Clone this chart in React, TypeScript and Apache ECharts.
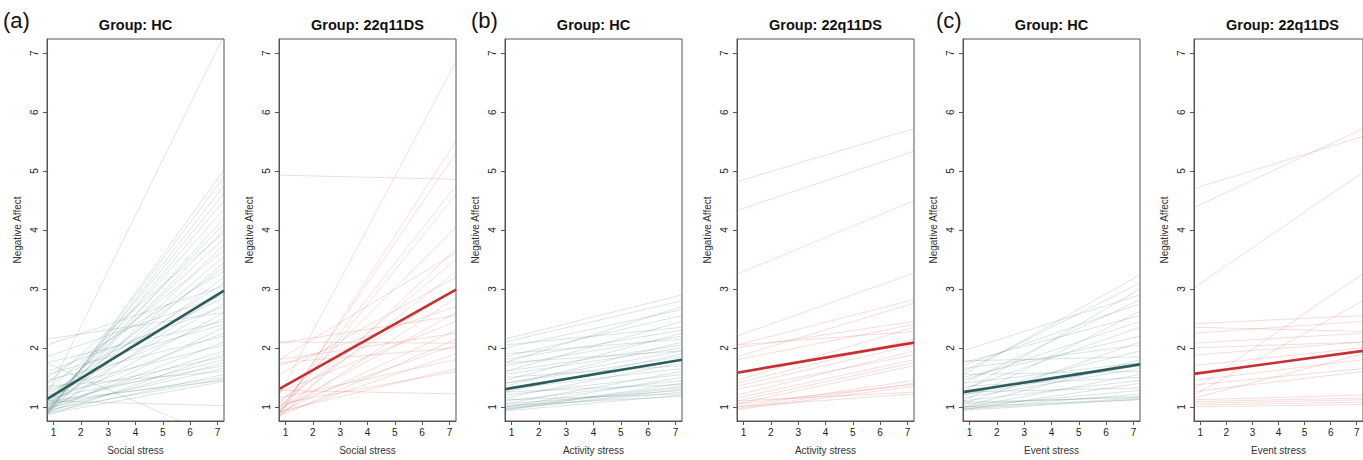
import React, { useEffect, useRef } from "react";
import * as echarts from "echarts";

// ---------- data ----------
const X_TICKS = [1, 2, 3, 4, 5, 6, 7];
const Y_TICKS = [1, 2, 3, 4, 5, 6, 7];
const AXIS_MIN = 0.76;
const AXIS_MAX = 7.24;

const panelLetters = ["(a)", "(b)", "(c)"];
const stressNames = ["Social stress", "Activity stress", "Event stress"];
const groupNames = ["HC", "22q11DS"];

// individual slopes: value at left edge / value at right edge of the plot
const socialHC_start = [1.2, 0.85, 0.88, 0.9, 0.95, 0.92, 1.0, 0.9, 1.05, 0.95, 1.1, 0.88, 1.3, 1.0, 0.92, 1.15, 1.5, 0.98, 1.2, 2.05, 0.9, 1.4, 1.05, 1.6, 0.95, 1.25, 1.75, 0.88, 1.1, 1.45, 0.95, 1.3, 1.0, 0.85, 1.2, 1.05, 0.92, 1.15, 0.98, 1.35, 0.9, 1.05, 0.95, 1.1, 0.88, 1.1, 1.74, 1.55, 1.85, 1.4, 2.15];
const socialHC_end = [7.3, 5.02, 4.9, 4.75, 4.62, 4.5, 4.35, 4.2, 4.1, 4.0, 3.85, 3.75, 3.65, 3.55, 3.45, 3.38, 3.3, 3.2, 3.1, 3.05, 2.95, 2.85, 2.75, 2.7, 2.6, 2.5, 2.45, 2.35, 2.25, 2.2, 2.1, 2.05, 1.95, 1.9, 1.85, 1.8, 1.75, 1.7, 1.65, 1.6, 1.55, 1.5, 1.47, 1.45, 1.43, 1.02, 0.44, 2.4, 2.9, 3.95, 2.6];

const social22_start = [1.2, 0.85, 0.9, 4.93, 0.95, 0.88, 1.05, 0.82, 1.8, 1.0, 0.92, 1.55, 1.1, 0.86, 1.7, 0.95, 2.08, 1.25, 0.9, 2.1, 1.0, 1.75, 0.88, 1.15, 0.92, 1.05, 1.28, 1.8, 0.84];
const social22_end = [6.86, 5.51, 5.3, 4.86, 4.75, 4.6, 4.05, 3.68, 3.62, 3.5, 3.3, 3.2, 3.0, 2.85, 2.7, 2.6, 2.55, 2.45, 2.3, 2.08, 2.05, 2.0, 1.9, 1.8, 1.65, 1.6, 1.22, 2.25, 2.15];

const activityHC_start = [2.15, 2.1, 1.75, 2.0, 1.85, 1.6, 2.05, 1.45, 1.7, 1.9, 1.35, 1.55, 1.75, 1.25, 1.4, 1.15, 1.5, 1.3, 1.05, 1.2, 1.0, 1.1, 0.95, 1.25, 1.0, 0.95, 1.05, 0.97, 1.12, 0.93, 1.02, 1.6, 1.8, 1.4, 0.98];
const activityHC_end = [2.9, 2.8, 2.7, 2.65, 2.55, 2.45, 2.35, 2.25, 2.2, 2.15, 2.1, 2.0, 1.95, 1.9, 1.85, 1.75, 1.7, 1.65, 1.6, 1.55, 1.5, 1.45, 1.4, 1.38, 1.35, 1.3, 1.28, 1.25, 1.22, 1.2, 1.18, 2.05, 2.3, 1.95, 1.33];

const activity22_start = [4.82, 4.33, 3.25, 2.2, 2.05, 1.85, 2.0, 1.8, 1.45, 2.05, 1.35, 1.2, 1.3, 1.15, 1.1, 1.05, 1.0, 0.97, 1.05, 0.95, 1.1, 1.0, 1.4];
const activity22_end = [5.72, 5.34, 4.5, 3.27, 2.82, 2.76, 2.45, 2.4, 2.35, 2.28, 2.05, 1.95, 1.88, 1.8, 1.75, 1.7, 1.45, 1.4, 1.38, 1.35, 1.25, 1.22, 2.15];

const eventHC_start = [1.55, 1.6, 1.25, 1.95, 1.4, 1.7, 1.1, 1.75, 1.3, 1.5, 1.05, 1.65, 1.2, 1.78, 1.0, 1.4, 1.15, 1.55, 0.98, 1.35, 1.1, 0.95, 1.25, 1.0, 0.97, 1.05, 0.96, 1.0, 1.08, 0.94, 1.45, 1.2];
const eventHC_end = [3.24, 3.1, 3.0, 2.9, 2.82, 2.75, 2.62, 2.55, 2.35, 2.2, 2.1, 2.05, 1.95, 1.85, 1.8, 1.75, 1.65, 1.6, 1.55, 1.5, 1.45, 1.4, 1.32, 1.28, 1.22, 1.18, 1.15, 1.12, 1.16, 1.13, 2.45, 1.7];

const event22_start = [4.7, 4.38, 3.02, 1.3, 1.2, 2.41, 2.35, 2.25, 2.08, 1.88, 1.45, 1.37, 1.26, 1.12, 1.09, 1.06, 1.0, 1.03, 1.7, 1.15, 2.0];
const event22_end = [5.59, 5.72, 4.98, 3.26, 2.8, 2.55, 2.28, 2.45, 2.25, 2.1, 1.8, 1.65, 1.6, 1.2, 1.15, 1.12, 1.04, 1.08, 2.0, 1.9, 2.1];

// group mean lines (left edge, right edge), panel order a-HC, a-22q, b-HC, b-22q, c-HC, c-22q
const mean_start = [1.13, 1.3, 1.3, 1.58, 1.25, 1.56];
const mean_end = [2.97, 2.99, 1.8, 2.09, 1.72, 1.95];

// ---------- layout / style ----------
const FONT = "'Liberation Sans', Arial, Helvetica, sans-serif";
const gridLefts = [47, 279, 505, 737, 963, 1194];
const letterLefts = [3, 471, 936];
const GRID_TOP = 39;
const GRID_W = 177;
const GRID_H = 384;
const THIN = ["rgba(85,130,130,0.22)", "rgba(215,80,80,0.2)"];
const THICK = ["#2b5c5c", "#c8302f"];

const panelStarts = [socialHC_start, social22_start, activityHC_start, activity22_start, eventHC_start, event22_start];
const panelEnds = [socialHC_end, social22_end, activityHC_end, activity22_end, eventHC_end, event22_end];

function buildOption() {
  const grid: any[] = [];
  const xAxis: any[] = [];
  const yAxis: any[] = [];
  const series: any[] = [];
  const title: any[] = [];

  for (let p = 0; p < 6; p++) {
    const g = p % 2;
    const k = Math.floor(p / 2);
    grid.push({
      left: gridLefts[p],
      top: GRID_TOP,
      width: GRID_W,
      height: GRID_H,
      show: true,
      borderColor: "#555",
      borderWidth: 1,
      containLabel: false,
    });
    xAxis.push({
      gridIndex: p,
      type: "value",
      min: AXIS_MIN,
      max: AXIS_MAX,
      name: stressNames[k],
      nameLocation: "middle",
      nameGap: 24,
      nameTextStyle: { fontSize: 10, color: "#333", fontFamily: FONT },
      axisLine: { show: true, lineStyle: { color: "#555" } },
      splitLine: { show: false },
      axisTick: { show: true, length: 4, customValues: X_TICKS, lineStyle: { color: "#555" } },
      axisLabel: { customValues: X_TICKS, fontSize: 10, color: "#222", margin: 6, fontFamily: FONT },
    });
    yAxis.push({
      gridIndex: p,
      type: "value",
      min: AXIS_MIN,
      max: AXIS_MAX,
      name: "Negative Affect",
      nameLocation: "middle",
      nameGap: 25,
      nameTextStyle: { fontSize: 10, color: "#333", fontFamily: FONT },
      axisLine: { show: true, lineStyle: { color: "#555" } },
      splitLine: { show: false },
      axisTick: { show: true, length: 4, customValues: Y_TICKS, lineStyle: { color: "#555" } },
      axisLabel: { customValues: Y_TICKS, rotate: 90, fontSize: 10, color: "#222", margin: 8, fontFamily: FONT },
    });
    title.push({
      text: "Group: " + groupNames[g],
      left: gridLefts[p] + GRID_W / 2,
      top: 17,
      padding: 0,
      textAlign: "center",
      textStyle: { fontSize: 14.5, fontWeight: "bold", color: "#111", fontFamily: FONT },
    });
    const starts = panelStarts[p];
    const ends = panelEnds[p];
    for (let i = 0; i < starts.length; i++) {
      series.push({
        type: "line",
        xAxisIndex: p,
        yAxisIndex: p,
        data: [[AXIS_MIN, starts[i]], [AXIS_MAX, ends[i]]],
        symbol: "none",
        silent: true,
        clip: true,
        z: 2,
        lineStyle: { width: 1, color: THIN[g] },
      });
    }
    series.push({
      type: "line",
      xAxisIndex: p,
      yAxisIndex: p,
      data: [[AXIS_MIN, mean_start[p]], [AXIS_MAX, mean_end[p]]],
      symbol: "none",
      silent: true,
      clip: true,
      z: 3,
      lineStyle: { width: 2.6, color: THICK[g] },
    });
  }
  for (let k = 0; k < 3; k++) {
    title.push({
      text: panelLetters[k],
      left: letterLefts[k],
      top: 9,
      padding: 0,
      textStyle: { fontSize: 22, fontWeight: "normal", color: "#111", fontFamily: FONT },
    });
  }

  return {
    animation: false,
    backgroundColor: "#ffffff",
    title,
    grid,
    xAxis,
    yAxis,
    series,
  };
}

export default function App() {
  const ref = useRef<HTMLDivElement>(null);
  useEffect(() => {
    document.body.style.margin = "0";
    if (!ref.current) return;
    const chart = echarts.init(ref.current, undefined, { renderer: "svg" });
    chart.setOption(buildOption() as any);
    return () => chart.dispose();
  }, []);
  return <div ref={ref} style={{ width: 1363, height: 460 }} />;
}
